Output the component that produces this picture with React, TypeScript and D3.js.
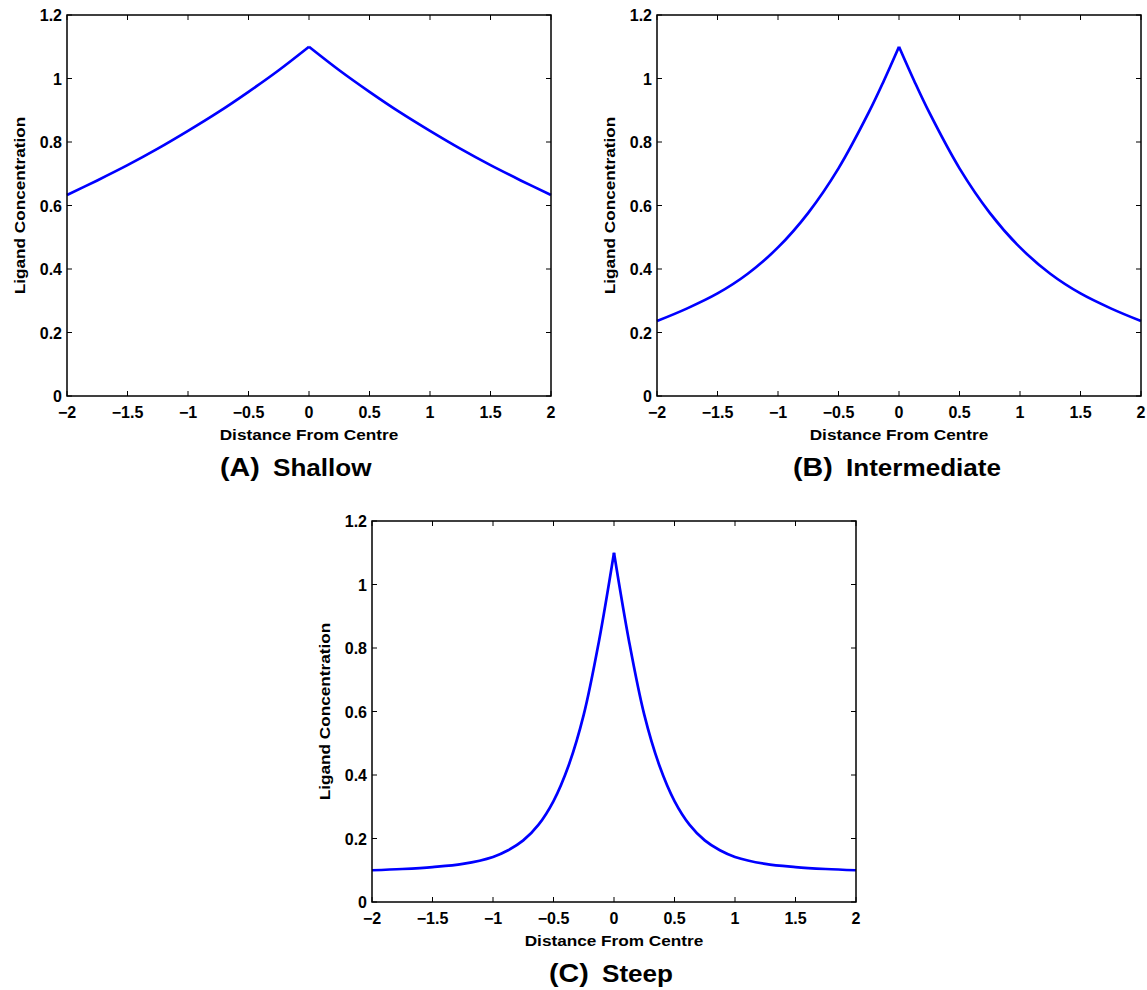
import React from "react";
import * as d3 from "d3";

const xTicks = [-2, -1.5, -1, -0.5, 0, 0.5, 1, 1.5, 2];
const yTicks = [0, 0.2, 0.4, 0.6, 0.8, 1, 1.2];

const shallowX = [-2, -1.75, -1.5, -1.25, -1, -0.75, -0.5, -0.25, 0, 0.25, 0.5, 0.75, 1, 1.25, 1.5, 1.75, 2];
const shallowY = [0.633, 0.679, 0.727, 0.779, 0.835, 0.894, 0.958, 1.026, 1.1, 1.026, 0.958, 0.894, 0.835, 0.779, 0.727, 0.679, 0.633];

const interX = [-2, -1.75, -1.5, -1.25, -1, -0.75, -0.5, -0.25, -0.125, 0, 0.125, 0.25, 0.5, 0.75, 1, 1.25, 1.5, 1.75, 2];
const interY = [0.236, 0.276, 0.323, 0.385, 0.468, 0.577, 0.717, 0.893, 0.993, 1.1, 0.993, 0.893, 0.717, 0.577, 0.468, 0.385, 0.323, 0.276, 0.236];

const steepX = [-2, -1.75, -1.5, -1.25, -1, -0.875, -0.75, -0.625, -0.5, -0.375, -0.25, -0.125, 0, 0.125, 0.25, 0.375, 0.5, 0.625, 0.75, 0.875, 1, 1.25, 1.5, 1.75, 2];
const steepY = [0.1, 0.104, 0.11, 0.12, 0.142, 0.163, 0.194, 0.243, 0.318, 0.43, 0.59, 0.82, 1.1, 0.82, 0.59, 0.43, 0.318, 0.243, 0.194, 0.163, 0.142, 0.12, 0.11, 0.104, 0.1];

const panels = [
  { letter: "(A)", name: "Shallow", xs: shallowX, ys: shallowY, left: 67, top: 15, titleX: 220, titleY: 476 },
  { letter: "(B)", name: "Intermediate", xs: interX, ys: interY, left: 657, top: 15, titleX: 793, titleY: 476 },
  { letter: "(C)", name: "Steep", xs: steepX, ys: steepY, left: 372, top: 521, titleX: 549, titleY: 982 },
];

const W = 484;
const H = 381;
const FONT = "'Liberation Sans', Arial, Helvetica, sans-serif";
const STRETCH = 1.11;

function fmt(v: number) {
  const s = String(v);
  return s.startsWith("-") ? "\u2212" + s.slice(1) : s;
}

function Panel({ p }: { p: typeof panels[number] }) {
  const x = d3.scaleLinear().domain([-2, 2]).range([0, W]);
  const y = d3.scaleLinear().domain([0, 1.2]).range([H, 0]);
  const pts = p.xs.map((xv, i) => [xv, p.ys[i]] as [number, number]);
  const leftPts = pts.filter((d) => d[0] <= 0);
  const rightPts = pts.filter((d) => d[0] >= 0);
  const line = d3
    .line<[number, number]>()
    .x((d) => x(d[0]))
    .y((d) => y(d[1]))
    .curve(d3.curveCatmullRom.alpha(0.5));
  const tl = 5;
  return (
    <g transform={`translate(${p.left},${p.top})`} fontFamily={FONT} fontWeight="bold">
      <path d={line(leftPts) || ""} fill="none" stroke="#0000ff" strokeWidth={2.7} strokeLinejoin="round" />
      <path d={line(rightPts) || ""} fill="none" stroke="#0000ff" strokeWidth={2.7} strokeLinejoin="round" />
      {xTicks.map((t) => (
        <g key={"x" + t}>
          <line x1={x(t)} x2={x(t)} y1={H} y2={H - tl} stroke="#000" strokeWidth={1} />
          <line x1={x(t)} x2={x(t)} y1={0} y2={tl} stroke="#000" strokeWidth={1} />
          <text x={x(t)} y={H + 22} textAnchor="middle" fontSize={16}>
            {fmt(t)}
          </text>
        </g>
      ))}
      {yTicks.map((t) => (
        <g key={"y" + t}>
          <line x1={0} x2={tl} y1={y(t)} y2={y(t)} stroke="#000" strokeWidth={1} />
          <line x1={W} x2={W - tl} y1={y(t)} y2={y(t)} stroke="#000" strokeWidth={1} />
          <text x={-5} y={y(t) + 6} textAnchor="end" fontSize={16}>
            {fmt(t)}
          </text>
        </g>
      ))}
      <rect x={0} y={0} width={W} height={H} fill="none" stroke="#000" strokeWidth={1.5} />
      <text transform={`translate(${W / 2},${H + 44}) scale(${STRETCH},1)`} textAnchor="middle" fontSize={15.5}>
        Distance From Centre
      </text>
      <text transform={`translate(-42,${H / 2}) rotate(-90) scale(${STRETCH},1)`} textAnchor="middle" fontSize={15.5}>
        Ligand Concentration
      </text>
      <text transform={`translate(${p.titleX - p.left},${p.titleY - p.top}) scale(1.1,1)`} fontSize={26}>
        {p.letter}
      </text>
      <text transform={`translate(${p.titleX - p.left + 53},${p.titleY - p.top}) scale(${STRETCH},1)`} fontSize={23.5}>
        {p.name}
      </text>
    </g>
  );
}

export default function App() {
  return (
    <svg
      width={1147}
      height={990}
      style={{ display: "block", position: "absolute", left: 0, top: 0, background: "#fff" }}
    >
      <rect width={1147} height={990} fill="#fff" />
      {panels.map((p) => (
        <Panel key={p.letter} p={p} />
      ))}
    </svg>
  );
}
